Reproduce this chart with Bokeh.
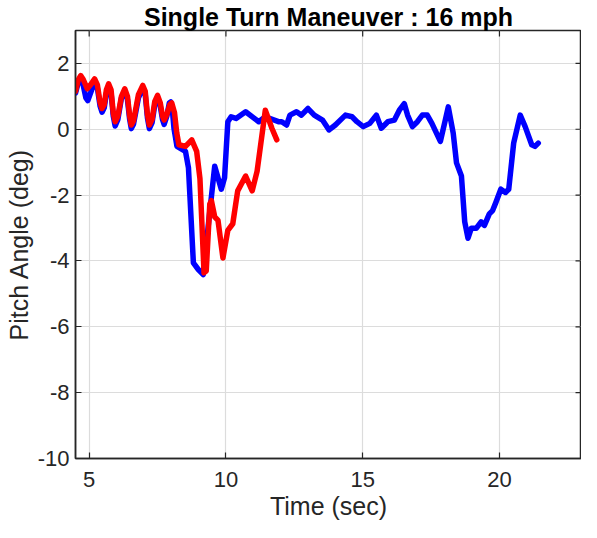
import math
from bokeh.plotting import figure
from bokeh.models import Range1d, FixedTicker
from bokeh.embed import file_html
from bokeh.resources import INLINE

# Time (sec) and pitch angle (deg)
blue_t = [4.50, 4.60, 4.69, 4.78, 4.88, 4.95, 5.05, 5.20, 5.30, 5.40, 5.47, 5.55, 5.63, 5.71, 5.80, 5.88,
          5.95, 6.05, 6.18, 6.30, 6.40, 6.48, 6.54, 6.62, 6.80, 6.96, 7.05, 7.13, 7.20, 7.30, 7.40, 7.50,
          7.60, 7.68, 7.74, 7.84, 7.93, 7.98, 8.04, 8.10, 8.21,
          8.52, 8.63, 8.81, 8.99, 9.17, 9.35, 9.59, 9.83, 9.95, 10.07, 10.19, 10.37, 10.72, 11.20, 11.44,
          11.92, 12.04, 12.22, 12.34, 12.58, 12.76, 13.00, 13.23, 13.53, 13.77, 14.00, 14.37, 14.61, 14.79,
          15.02, 15.26, 15.50, 15.68, 15.92, 16.16, 16.34, 16.52, 16.64, 16.82, 17.00, 17.18, 17.36, 17.53,
          17.84, 18.02, 18.13, 18.31, 18.43, 18.61, 18.73, 18.85, 18.97, 19.15, 19.33, 19.45, 19.63, 19.75,
          19.87, 20.05, 20.22, 20.34, 20.52, 20.76, 20.94, 21.18, 21.30, 21.42]
blue_pitch = [1.10, 1.42, 1.55, 1.35, 0.95, 0.87, 1.10, 1.45, 1.25, 0.70, 0.52, 0.65, 1.10, 1.30, 1.10, 0.40,
              0.10, 0.30, 0.95, 1.15, 0.90, 0.30, 0.02, 0.15, 0.95, 1.25, 1.05, 0.35, 0.02, 0.20, 0.75, 0.95,
              0.70, 0.30, 0.15, 0.40, 0.80, 0.83, 0.60, 0.03, -0.52,
              -0.67, -1.17, -4.06, -4.26, -4.41, -2.96, -1.12, -1.82, -1.47, 0.23, 0.38, 0.33, 0.53, 0.23, 0.38,
              0.23, 0.23, 0.13, 0.43, 0.53, 0.43, 0.63, 0.43, 0.28, -0.02, 0.13, 0.43, 0.38, 0.23,
              0.08, 0.18, 0.43, 0.03, 0.23, 0.28, 0.58, 0.78, 0.43, 0.08, 0.23, 0.43, 0.43, 0.18,
              -0.37, 0.28, 0.68, -0.12, -1.02, -1.42, -2.81, -3.31, -3.01, -3.01, -2.81, -2.92, -2.57, -2.47,
              -2.22, -1.82, -1.92, -1.82, -0.42, 0.43, 0.08, -0.47, -0.52, -0.42]

red_t = [4.50, 4.60, 4.69, 4.78, 4.93, 5.05, 5.20, 5.30, 5.40, 5.47, 5.55, 5.63, 5.71, 5.80, 5.88, 5.95,
         6.05, 6.18, 6.30, 6.40, 6.48, 6.54, 6.62, 6.80, 6.96, 7.05, 7.13, 7.20, 7.30, 7.40, 7.50, 7.60,
         7.68, 7.74, 7.84, 7.95, 8.02, 8.12, 8.20, 8.28,
         8.52, 8.75, 8.93, 9.05, 9.20, 9.28, 9.41, 9.47, 9.59, 9.71, 9.89, 10.07, 10.25, 10.43, 10.72,
         10.96, 11.14, 11.44, 11.68, 11.86]
red_pitch = [1.15, 1.50, 1.63, 1.52, 1.23, 1.35, 1.53, 1.35, 0.80, 0.63, 0.75, 1.20, 1.38, 1.20, 0.50, 0.23,
             0.40, 1.00, 1.23, 1.00, 0.40, 0.13, 0.25, 1.05, 1.33, 1.15, 0.45, 0.13, 0.30, 0.85, 1.03, 0.80,
             0.40, 0.28, 0.45, 0.75, 0.80, 0.50, -0.10, -0.47,
             -0.52, -0.32, -0.67, -1.50, -4.36, -4.30, -2.27, -2.17, -2.66, -2.77, -3.91, -3.07, -2.87, -1.87, -1.42,
             -1.87, -1.27, 0.58, 0.03, -0.32]

x_ticks = [5, 10, 15, 20]
y_ticks = [-10, -8, -6, -4, -2, 0, 2]
y_tick_text = {t: str(t) for t in y_ticks}
x_lim = (4.5, 23)
y_lim = (-10, 3)

FONT = "Liberation Sans"
AX = "#262626"

p = figure(width=581, height=522, output_backend="svg", toolbar_location=None,
           x_range=Range1d(*x_lim), y_range=Range1d(*y_lim),
           min_border_left=75, min_border_right=0, min_border_top=26, min_border_bottom=64,
           title="Single Turn Maneuver : 16 mph")

p.title.align = "center"
p.title.text_font = FONT
p.title.text_font_size = "25px"
p.title.text_font_style = "bold"
p.title.text_color = "#000000"
p.title.offset = 0
p.title.standoff = 0

p.outline_line_color = AX
p.outline_line_width = 1.5
p.outline_line_alpha = 1.0

p.xgrid.ticker = FixedTicker(ticks=x_ticks)
p.ygrid.ticker = FixedTicker(ticks=y_ticks)
p.grid.grid_line_color = "#dcdcdc"
p.grid.grid_line_width = 1.2

for ax in p.xaxis + p.yaxis:
    ax.major_label_text_font = FONT
    ax.major_label_text_font_size = "22px"
    ax.major_label_text_color = AX
    ax.axis_label_text_font = FONT
    ax.axis_label_text_font_size = "25px"
    ax.axis_label_text_font_style = "normal"
    ax.axis_label_text_color = AX
    ax.axis_line_color = AX
    ax.axis_line_width = 1.5
    ax.major_tick_line_color = AX
    ax.major_tick_line_width = 1.2
    ax.major_tick_in = 6
    ax.major_tick_out = 0
    ax.minor_tick_line_color = None

p.xaxis.ticker = FixedTicker(ticks=x_ticks)
p.yaxis.ticker = FixedTicker(ticks=y_ticks)
p.yaxis.major_label_overrides = y_tick_text
p.xaxis.axis_label = "Time (sec)"
p.yaxis.axis_label = "Pitch Angle (deg)"
p.xaxis.major_label_standoff = 13
p.xaxis.axis_label_standoff = 2
p.yaxis.major_label_standoff = 6
p.yaxis.axis_label_standoff = 2

# inward box ticks on the top and right edges (clipped to the frame)
p.scatter(x_ticks, [y_lim[1]] * len(x_ticks), marker="dash", angle=math.pi / 2, size=12,
          line_color=AX, line_width=1.2)
p.scatter([x_lim[1]] * len(y_ticks), y_ticks, marker="dash", size=12,
          line_color=AX, line_width=1.2)

p.line(blue_t, blue_pitch, line_color="#0000ff", line_width=5.5, line_join="round", line_cap="round")
p.line(red_t, red_pitch, line_color="#ff0000", line_width=5.5, line_join="round", line_cap="round")

open("out.html", "w").write(file_html(p, INLINE))
